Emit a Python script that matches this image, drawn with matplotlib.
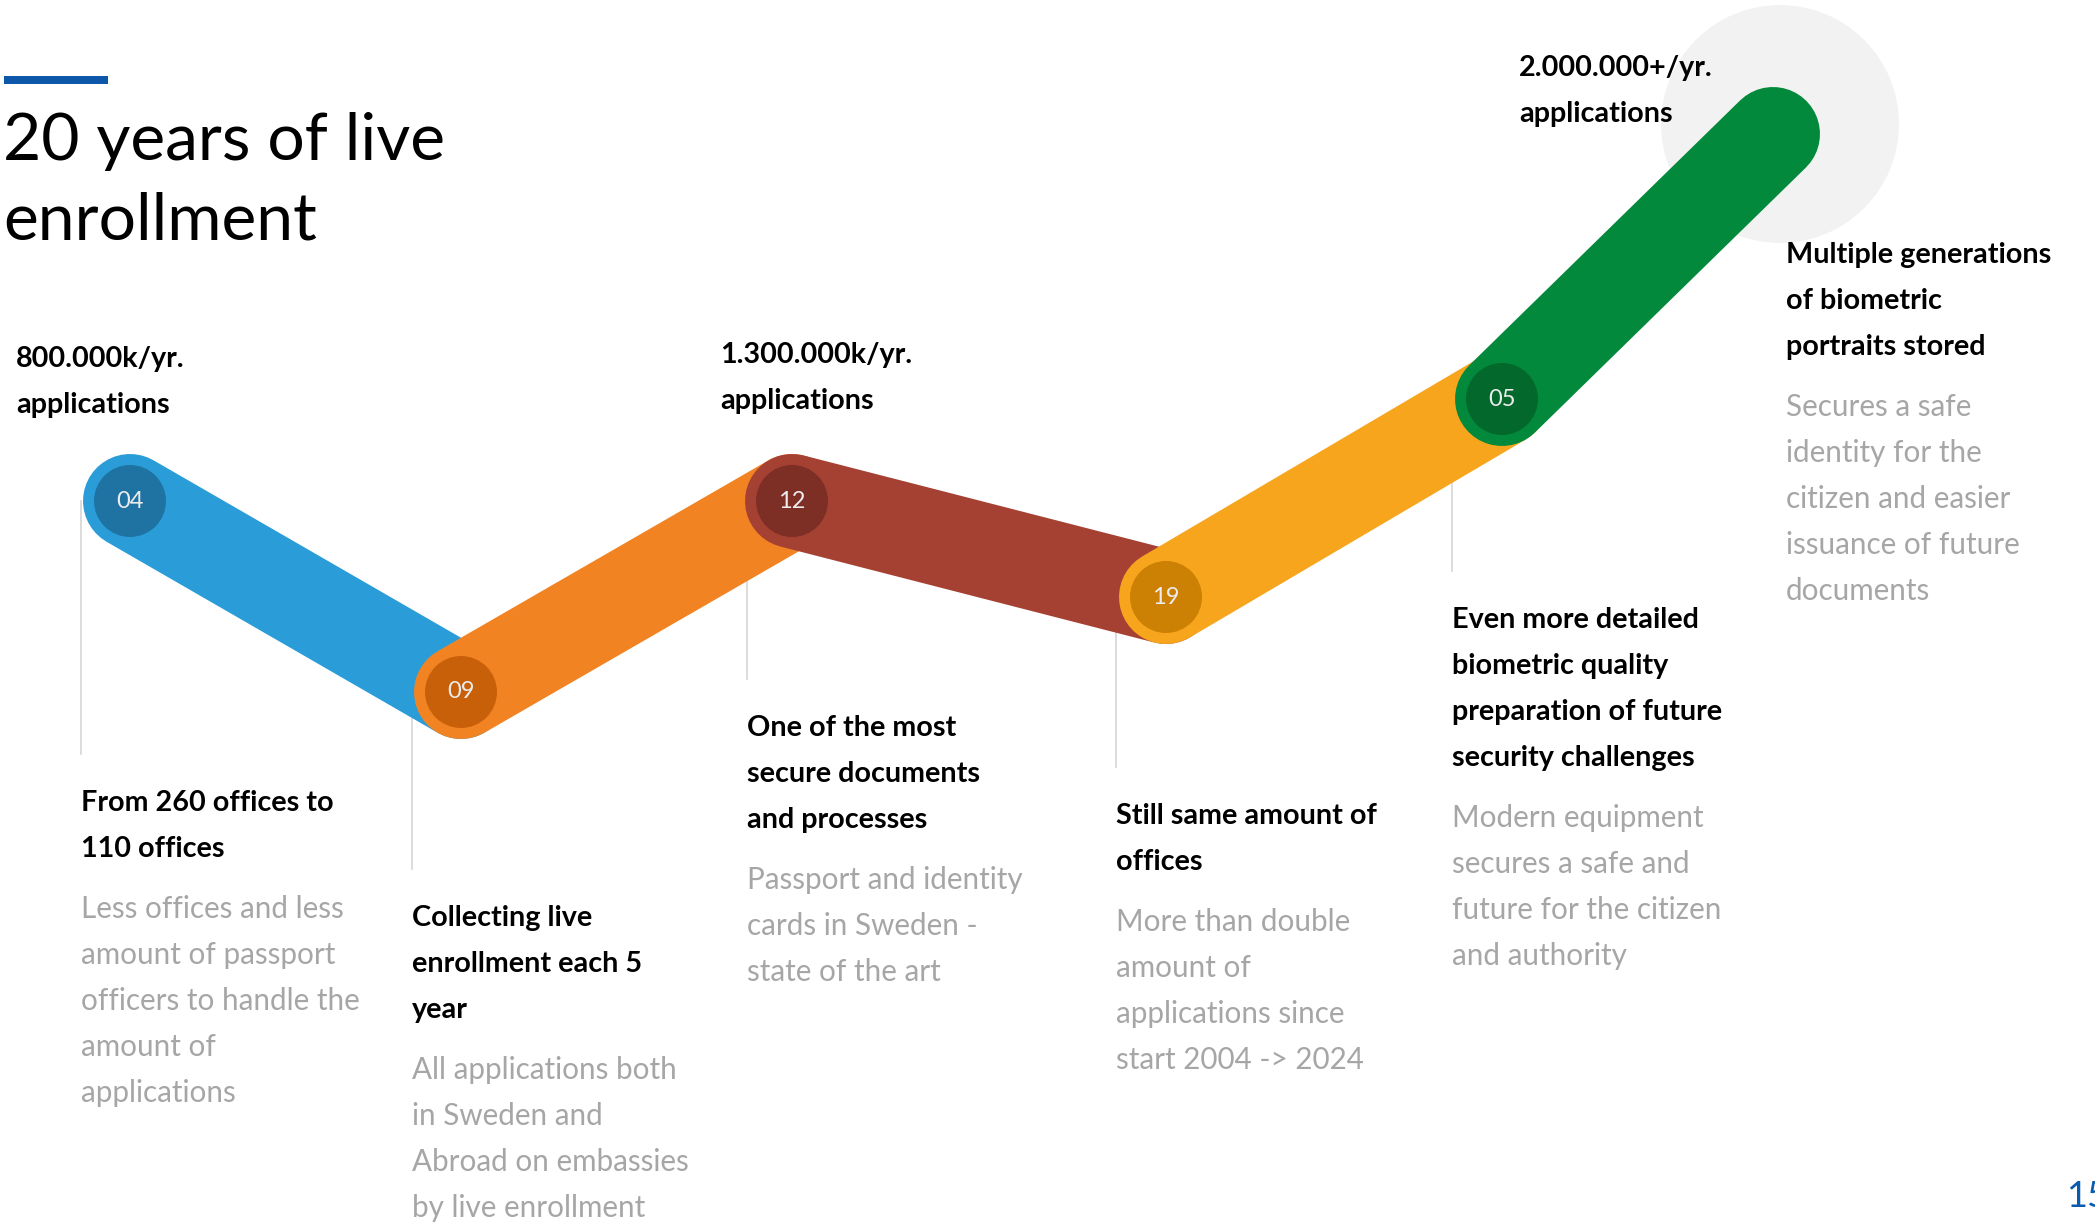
import matplotlib
matplotlib.use('Agg')
import matplotlib.pyplot as plt
from matplotlib.patches import Circle, Rectangle

plt.rcParams['font.family'] = ['Lato', 'DejaVu Sans']

# Данные: вехи (год) и подписи
years = ['04', '09', '12', '19', '05']
band_colors = ['#2a9dd8', '#f28322', '#a54133', '#f7a51d', '#02893b']
node_colors = ['#1f73a3', '#c8600a', '#7d2e25', '#cc8004', '#03682c']

# ломаная линия (пиксели исходной картинки), последняя точка - конец зелёной полосы
path_x = [130, 461, 792, 1166, 1502, 1773]
path_y = [501, 692, 501, 597, 399, 134]

volumes = ['800.000k/yr.\napplications',
           '1.300.000k/yr.\napplications',
           '2.000.000+/yr.\napplications']
volume_pos = [(16, 367), (720, 363), (1519, 76)]

headlines = [
    ['From 260 offices to', '110 offices'],
    ['Collecting live', 'enrollment each 5', 'year'],
    ['One of the most', 'secure documents', 'and processes'],
    ['Still same amount of', 'offices'],
    ['Even more detailed', 'biometric quality', 'preparation of future', 'security challenges'],
    ['Multiple generations', 'of biometric', 'portraits stored'],
]
details = [
    ['Less offices and less', 'amount of passport', 'officers to handle the', 'amount of', 'applications'],
    ['All applications both', 'in Sweden and', 'Abroad on embassies', 'by live enrollment'],
    ['Passport and identity', 'cards in Sweden -', 'state of the art'],
    ['More than double', 'amount of', 'applications since', 'start 2004 -> 2024'],
    ['Modern equipment', 'secures a safe and', 'future for the citizen', 'and authority'],
    ['Secures a safe', 'identity for the', 'citizen and easier', 'issuance of future', 'documents'],
]
block_x = [81, 412, 747, 1116, 1452, 1786]
block_y = [811, 926, 736, 824, 628, 263]

W, H, DPI = 2095, 1225, 100
fig = plt.figure(figsize=(W / DPI, H / DPI), dpi=DPI)
ax = fig.add_axes([0, 0, 1, 1])
ax.set_xlim(0, W)
ax.set_ylim(H, 0)
ax.axis('off')

band_r = 47
node_r = 36
lw = 2 * band_r * 72 / DPI
LS = 46     # межстрочный интервал
FS = 20.7
GRAY = '#a6a6a6'

# заголовок
ax.add_patch(Rectangle((4, 76), 104, 8, color='#0d57a8', lw=0))
ax.text(3, 160, '20 years of live', fontsize=47.5, va='baseline', color='black')
ax.text(3, 240, 'enrollment', fontsize=47.5, va='baseline', color='black')

# серый круг за концом
ax.add_patch(Circle((1780, 124), 119, color='#f2f2f2', lw=0, zorder=1))

# вертикальные линии к подписям
for i in range(5):
    ax.plot([block_x[i], block_x[i]], [path_y[i], block_y[i] - 57],
            color='#d6d6d6', lw=1.2, zorder=0.5)

# полосы и узлы
for i in range(5):
    ax.plot([path_x[i], path_x[i + 1]], [path_y[i], path_y[i + 1]],
            color=band_colors[i], lw=lw, solid_capstyle='round', zorder=2 + 2 * i)
    ax.add_patch(Circle((path_x[i], path_y[i]), node_r, color=node_colors[i],
                        lw=0, zorder=3 + 2 * i))
    ax.text(path_x[i], path_y[i], years[i], fontsize=17, color='#ececec',
            ha='center', va='center', zorder=3 + 2 * i)

for (x, y), txt in zip(volume_pos, volumes):
    for k, line in enumerate(txt.split('\n')):
        ax.text(x, y + k * LS, line, fontsize=FS, fontweight='bold', va='baseline')

for x, y, head, det in zip(block_x, block_y, headlines, details):
    for k, line in enumerate(head):
        ax.text(x, y + k * LS, line, fontsize=FS, fontweight='bold', va='baseline')
    y2 = y + (len(head) - 1) * LS + 61
    for k, line in enumerate(det):
        ax.text(x, y2 + k * LS, line, fontsize=21.3, color=GRAY, va='baseline')

# номер страницы (в оригинале обрезан правым краем)
ax.text(2066, 1207, '15', fontsize=26, color='#0b5cad', va='baseline')

fig.savefig('out.png', dpi=DPI)
